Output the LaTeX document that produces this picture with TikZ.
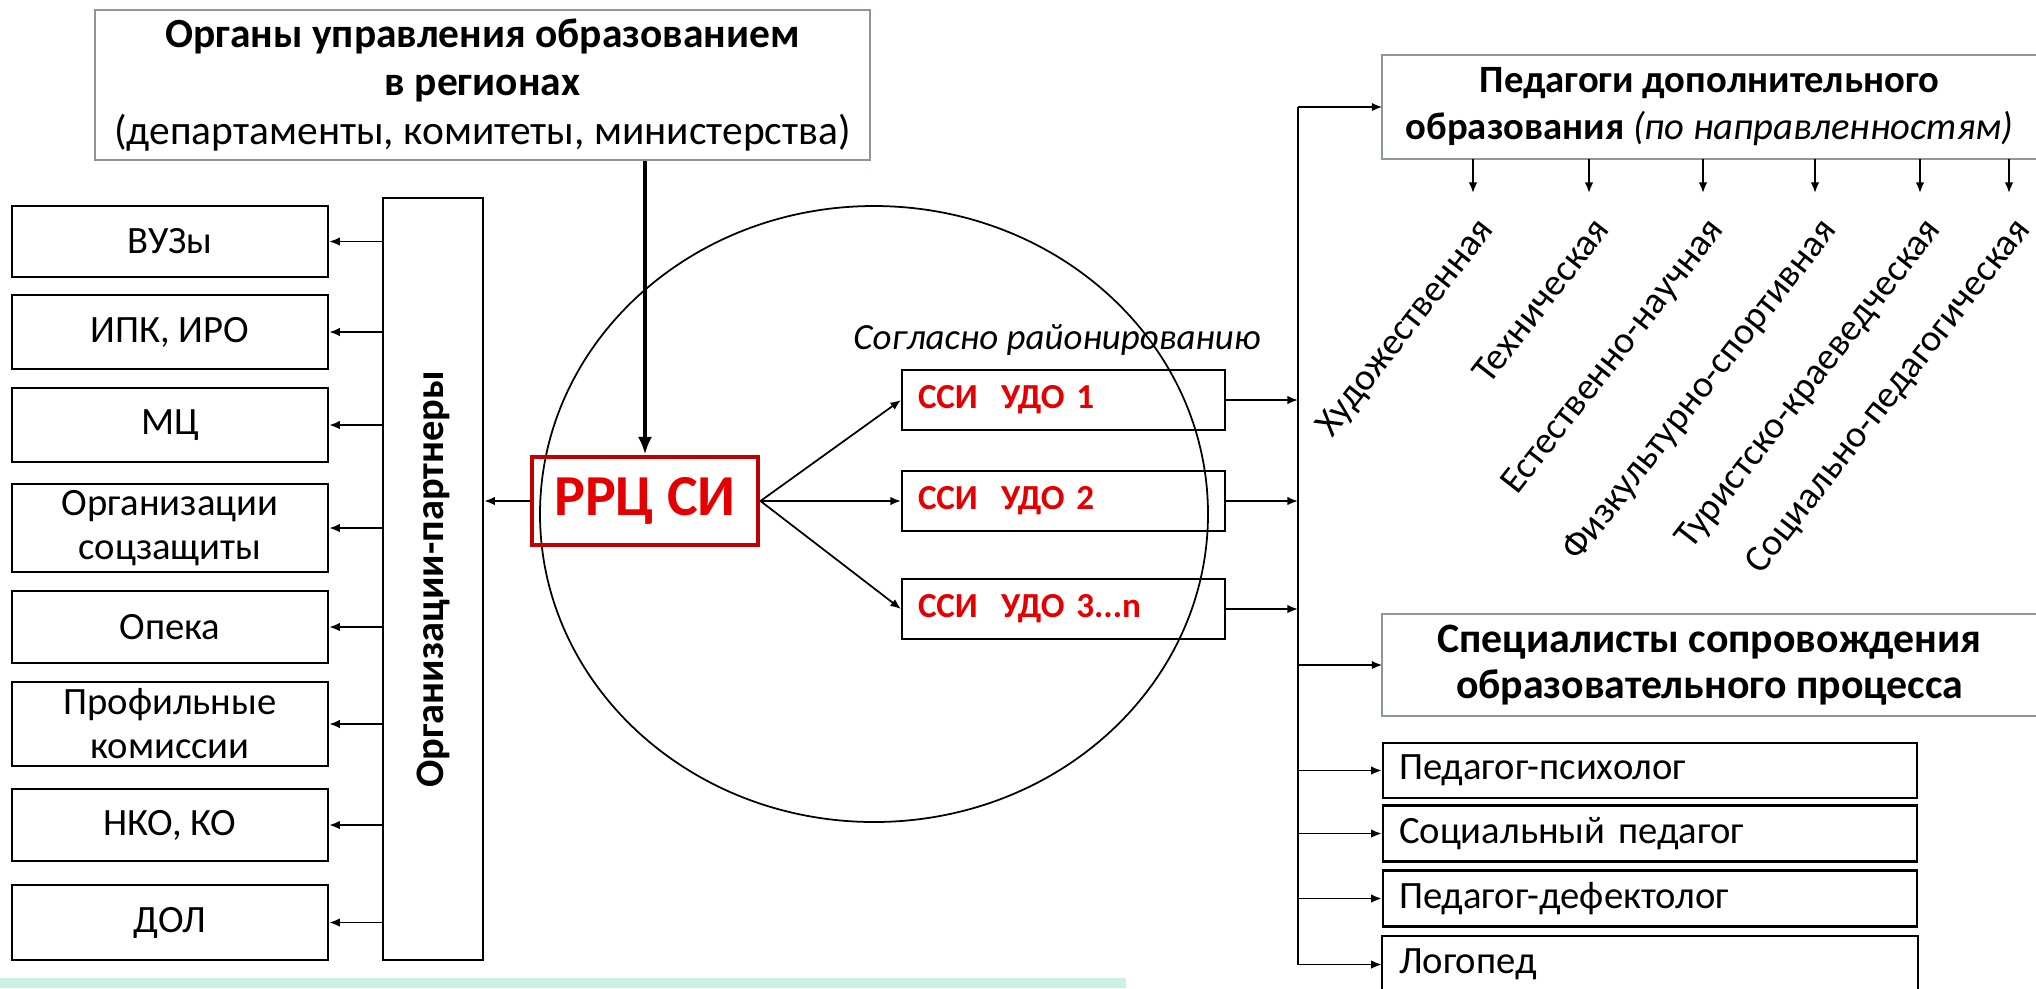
\documentclass[tikz,border=0pt]{standalone}
\usepackage{fontspec}
\setmainfont{Carlito}
\usepackage{tikz}
\usetikzlibrary{positioning,arrows.meta,shapes.geometric}

\definecolor{rrcred}{RGB}{192,0,0}
\definecolor{textred}{RGB}{228,0,0}
\definecolor{boxgray}{RGB}{140,150,160}
\definecolor{mint}{RGB}{204,242,226}

\begin{document}
\begin{tikzpicture}[x=0.1mm, y=-0.1mm,
    >={Latex[length=3pt, width=2.4pt]},
    arr/.style={->, line width=0.5pt},
    bigarr/.style={-{Latex[length=5pt, width=4pt]}, line width=1.2pt},
    partner/.style={draw, line width=0.7pt, minimum width=31.6mm, inner sep=1pt,
        align=center, font=\fontsize{11}{12.5}\selectfont},
    ssi/.style={draw, line width=0.6pt, minimum height=6mm, text width=29.1mm,
        inner xsep=1.6mm, align=left, text=textred,
        font=\bfseries\fontsize{10}{12}\selectfont},
    staff/.style={draw, line width=0.7pt, text width=50.2mm, inner xsep=1.6mm,
        align=left, font=\fontsize{11}{13}\selectfont},
    branch/.style={rotate=52, anchor=north east, inner sep=1pt,
        font=\fontsize{10.8}{12}\selectfont}
]
\useasboundingbox (0,0) rectangle (2036,988);

    % regional authorities
    \node[draw=boxgray, line width=0.6pt, minimum width=77.5mm, minimum height=15mm,
        inner sep=1pt, align=center, font=\fontsize{11.8}{13.7}\selectfont]
        (gov) at (482.5,85) {\textbf{Органы управления образованием}\\
        \textbf{в регионах}\\(департаменты, комитеты, министерства)};

    % partners
    \node[draw, line width=0.7pt, minimum width=10mm, minimum height=76.2mm] (org) at (433,579) {};
    \node[rotate=90, font=\bfseries\fontsize{11.5}{13}\selectfont] (orglabel) at (org.center) {Организации-партнеры};

    \node[partner, minimum height=7.1mm] (vuz) at (170,241.5) {ВУЗы};
    \node[partner, minimum height=7.4mm] (ipk) at (170,332) {ИПК, ИРО};
    \node[partner, minimum height=7.4mm] (mc) at (170,425) {МЦ};
    \node[partner, minimum height=8.8mm] (soc) at (170,528) {Организации\\соцзащиты};
    \node[partner, minimum height=7.2mm] (opeka) at (170,627) {Опека};
    \node[partner, minimum height=8.4mm] (prof) at (170,724) {Профильные\\комиссии};
    \node[partner, minimum height=7.2mm] (nko) at (170,825) {НКО, КО};
    \node[partner, minimum height=7.5mm] (dol) at (170,922.5) {ДОЛ};

    \draw[arr] (org.west |- vuz.east) -- (vuz.east);
    \draw[arr] (org.west |- ipk.east) -- (ipk.east);
    \draw[arr] (org.west |- mc.east) -- (mc.east);
    \draw[arr] (org.west |- soc.east) -- (soc.east);
    \draw[arr] (org.west |- opeka.east) -- (opeka.east);
    \draw[arr] (org.west |- prof.east) -- (prof.east);
    \draw[arr] (org.west |- nko.east) -- (nko.east);
    \draw[arr] (org.west |- dol.east) -- (dol.east);

    % centre and districts
    \node[draw, ellipse, line width=0.5pt, minimum width=66.8mm, minimum height=61.6mm] (zone) at (874,514) {};

    \node[draw=rrcred, line width=1.4pt, text=textred, minimum width=22.6mm, minimum height=8.8mm,
        inner sep=1pt, font=\bfseries\fontsize{16.5}{18}\selectfont] (rrc) at (645,501) {РРЦ СИ};

    \draw[bigarr] (rrc.north |- gov.south) -- (rrc.north);
    \draw[arr] (rrc.west) -- (org.east |- rrc.west);

    \node[font=\itshape\fontsize{10.5}{12}\selectfont] (zoning) at (1057,340) {Согласно районированию};

    \node[ssi] (ssi1) at (1063.5,400) {ССИ~ УДО 1};
    \node[ssi] (ssi2) at (1063.5,501) {ССИ~ УДО 2};
    \node[ssi] (ssi3) at (1063.5,609) {ССИ~ УДО 3...n};

    \draw[arr] (rrc.east) -- (ssi1.west);
    \draw[arr] (rrc.east) -- (ssi2.west);
    \draw[arr] (rrc.east) -- (ssi3.west);

    % staff
    \node[minimum width=65.3mm, minimum height=10.2mm, inner sep=1pt, align=center,
        font=\fontsize{11}{13.4}\selectfont] (ped) at (1709.5,107)
        {\textbf{Педагоги дополнительного}\\\textbf{образования} \textit{(по направленностям)}};
    \draw[boxgray, line width=0.6pt] (ped.north east) -- (ped.north west) -- (ped.south west) -- (ped.south east);

    \coordinate (tip1) at (1473,193);
    \coordinate (tip2) at (1589,193);
    \coordinate (tip3) at (1703,193);
    \coordinate (tip4) at (1815,193);
    \coordinate (tip5) at (1920,193);
    \coordinate (tip6) at (2009,193);

    \draw[arr] (ped.south -| tip1) -- (tip1);
    \draw[arr] (ped.south -| tip2) -- (tip2);
    \draw[arr] (ped.south -| tip3) -- (tip3);
    \draw[arr] (ped.south -| tip4) -- (tip4);
    \draw[arr] (ped.south -| tip5) -- (tip5);
    \draw[arr] (ped.south -| tip6) -- (tip6);

    \node[branch] (art) at ([xshift=0.2mm, yshift=-1.6mm]tip1) {Художественная};
    \node[branch] (tech) at ([xshift=0.2mm, yshift=-1.6mm]tip2) {Техническая};
    \node[branch] (nat) at ([xshift=0.2mm, yshift=-1.6mm]tip3) {Естественно-научная};
    \node[branch] (sport) at ([xshift=0.2mm, yshift=-1.6mm]tip4) {Физкультурно-спортивная};
    \node[branch] (tour) at ([xshift=0.2mm, yshift=-1.6mm]tip5) {Туристско-краеведческая};
    \node[branch] (socped) at ([xshift=0.2mm, yshift=-1.6mm]tip6) {Социально-педагогическая};

    \node[minimum width=65.3mm, minimum height=10mm, inner sep=1pt, align=center,
        font=\bfseries\fontsize{11.9}{13}\selectfont] (spec) at (1709.5,665)
        {Специалисты сопровождения\\образовательного процесса};
    \draw[boxgray, line width=0.6pt] (spec.north east) -- (spec.north west) -- (spec.south west) -- (spec.south east);

    \node[staff, minimum height=4.9mm] (psych) at (1650,770.5) {Педагог-психолог};
    \node[staff, minimum height=5.1mm] (social) at (1650,833.5) {Социальный педагог};
    \node[staff, minimum height=5mm] (defect) at (1650,898.5) {Педагог-дефектолог};
    \node[staff, draw=none, minimum height=4.7mm] (logo) at (1650,964.5) {Логопед};
    \draw[line width=0.7pt] (logo.south west) -- (logo.north west) -- (logo.north east) -- (logo.south east);

    % bus
    \coordinate (bustop) at (1298,107);
    \draw[line width=0.5pt] (bustop) -- (bustop |- logo.west);

    \draw[arr] (ssi1.east) -- (ssi1.east -| bustop);
    \draw[arr] (ssi2.east) -- (ssi2.east -| bustop);
    \draw[arr] (ssi3.east) -- (ssi3.east -| bustop);

    \draw[arr] (bustop) -- (ped.west);
    \draw[arr] (bustop |- spec.west) -- (spec.west);
    \draw[arr] (bustop |- psych.west) -- (psych.west);
    \draw[arr] (bustop |- social.west) -- (social.west);
    \draw[arr] (bustop |- defect.west) -- (defect.west);
    \draw[arr] (bustop |- logo.west) -- (logo.west);

    \fill[mint] (0,978) rectangle (1126,988);
\end{tikzpicture}
\end{document}
